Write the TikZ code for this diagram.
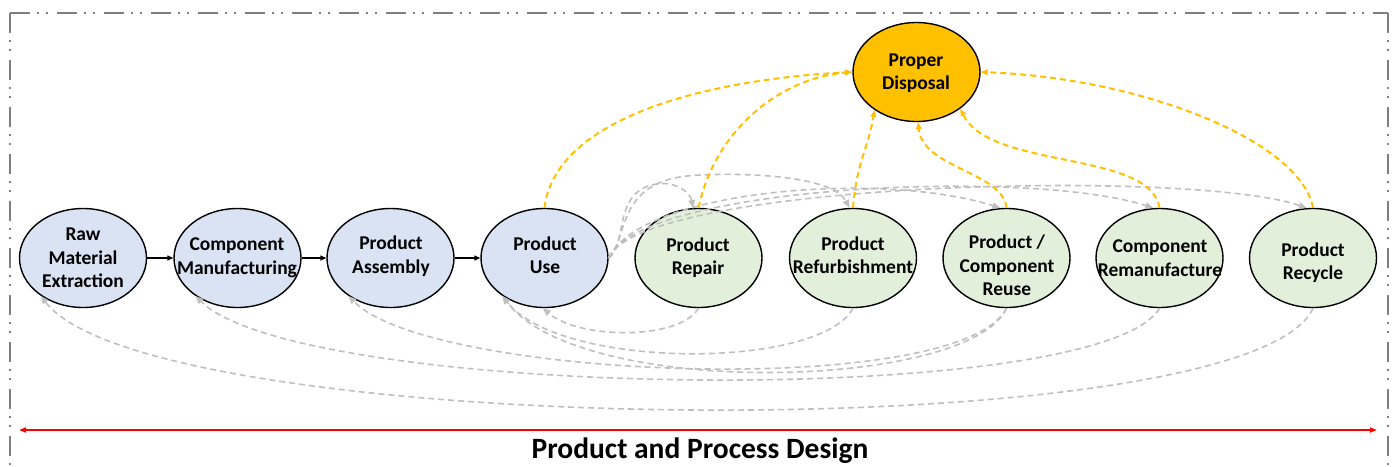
\documentclass[tikz,border=0pt]{standalone}
\usepackage{fontspec}
\setmainfont{Carlito}
\usetikzlibrary{shapes.geometric,arrows.meta}
\definecolor{nodeblue}{HTML}{DAE3F3}
\definecolor{nodegreen}{HTML}{E2EFDA}
\definecolor{dispgold}{HTML}{FFC000}
\definecolor{loopgray}{HTML}{BFBFBF}
\definecolor{framegray}{HTML}{7F7F7F}
\begin{document}
\begin{tikzpicture}[x=1pt,y=-1pt,
  stage/.style={ellipse,draw=black,line width=1.4pt,minimum width=127pt,minimum height=99pt,inner sep=0pt},
  lbl/.style={font=\bfseries\fontsize{19.5}{23.5}\selectfont,align=center,inner sep=0pt},
  flow/.style={-{Triangle[length=6pt,width=5pt]},line width=1.3pt,black},
  loop/.style={-{Triangle[length=8pt,width=6.5pt]},line width=1.6pt,loopgray,dash pattern=on 6pt off 4pt},
  waste/.style={-{Triangle[length=7pt,width=5.5pt]},line width=2pt,dispgold,dash pattern=on 6pt off 4pt},
  frame/.style={framegray,line width=2pt,dash pattern=on 20pt off 7pt on 2pt off 7pt on 2pt off 9pt}]
\useasboundingbox (0,0) rectangle (1397,466);
\begin{scope}
\clip (0,0) rectangle (1397,466);
\coordinate (ftl) at (10,13);
\coordinate (ftr) at (1388,13);
\coordinate (fbl) at (10,500);
\coordinate (fbr) at (1388,500);
\draw[frame] (ftl) -- (ftr);
\draw[frame] (ftl) -- (fbl);
\draw[frame] (ftr) -- (fbr);
\end{scope}

% nodes
\node[stage,fill=nodeblue] (raw) at (83,258) {};
\node[stage,fill=nodeblue] (comp) at (237.5,258) {};
\node[stage,fill=nodeblue] (asm) at (390.5,258) {};
\node[stage,fill=nodeblue] (use) at (544.5,258) {};
\node[stage,fill=nodegreen] (rep) at (698.5,258) {};
\node[stage,fill=nodegreen] (ref) at (853,258) {};
\node[stage,fill=nodegreen] (reu) at (1006.5,258) {};
\node[stage,fill=nodegreen] (rem) at (1159.5,258) {};
\node[stage,fill=nodegreen] (rec) at (1313,258) {};
\node[stage,fill=dispgold] (disp) at (916.5,72) {};

\node[lbl] (rawT) at (83,258) {Raw\\Material\\Extraction};
\node[lbl] (compT) at (237,258) {Component\\Manufacturing};
\node[lbl] (asmT) at (391,256) {Product\\Assembly};
\node[lbl] (useT) at (545,255) {Product\\Use};
\node[lbl] (repT) at (698,257.5) {Product\\Repair};
\node[lbl] (refT) at (853,255) {Product\\Refurbishment};
\node[lbl] (reuT) at (1007,265.5) {Product /\\Component\\Reuse};
\node[lbl] (remT) at (1160,258) {Component\\Remanufacture};
\node[lbl] (recT) at (1313,262.5) {Product\\Recycle};
\node[lbl] (dispT) at (916,73) {Proper\\Disposal};

% main flow
\draw[flow] (raw.east) -- (comp.west);
\draw[flow] (comp.east) -- (asm.west);
\draw[flow] (asm.east) -- (use.west);

% return loops (bottom)
\draw[loop] (rep.south) .. controls (680,340) and (580,340) .. (use.-92);
\draw[loop] (ref.south) .. controls (820,370) and (560,370) .. (use.-138);
\draw[loop] (reu.south) .. controls (970,390) and (580,400) .. (use.-138);
\draw[loop] (reu.south) .. controls (960,400) and (430,380) .. (asm.-138);
\draw[loop] (rem.south) .. controls (1100,410) and (300,400) .. (comp.-138);
\draw[loop] (rec.south) .. controls (1250,450) and (150,440) .. (raw.-138);

% forward loops (top)
\draw[loop] (use.east) .. controls (628,245) and (612,190) .. (657,184) .. controls (675,181) and (690,192) .. (rep.96);
\draw[loop] (use.east) .. controls (630,235) and (615,178) .. (700,175) .. controls (770,172) and (835,180) .. (ref.94);
\draw[loop] (use.east) .. controls (640,190) and (880,170) .. (reu.97);
\draw[loop] (use.east) .. controls (640,185) and (1030,168) .. (rem.97);
\draw[loop] (use.east) .. controls (640,182) and (1190,168) .. (rec.97);

% disposal
\draw[waste] (use.north) .. controls (555,120) and (700,80) .. (disp.west);
\draw[waste] (rep.north) .. controls (715,130) and (780,78) .. (disp.west);
\draw[waste] (ref.north) .. controls (857,160) and (868,150) .. (disp.-138);
\draw[waste] (reu.north) .. controls (1003,172) and (922,168) .. (disp.-88);
\draw[waste] (rem.north) .. controls (1150,150) and (990,170) .. (disp.-40);
\draw[waste] (rec.north) .. controls (1300,140) and (1140,78) .. (disp.east);

% design axis
\coordinate (dl) at (19,430);
\coordinate (dr) at (1377,430);
\draw[red,line width=1.6pt,{Triangle[length=7pt,width=5pt]}-{Triangle[length=7pt,width=5pt]}] (dl) -- (dr);
\node[font=\bfseries\fontsize{29.5}{35}\selectfont,anchor=base,inner sep=0pt] (title) at (700,458.5) {Product and Process Design};
\end{tikzpicture}
\end{document}
